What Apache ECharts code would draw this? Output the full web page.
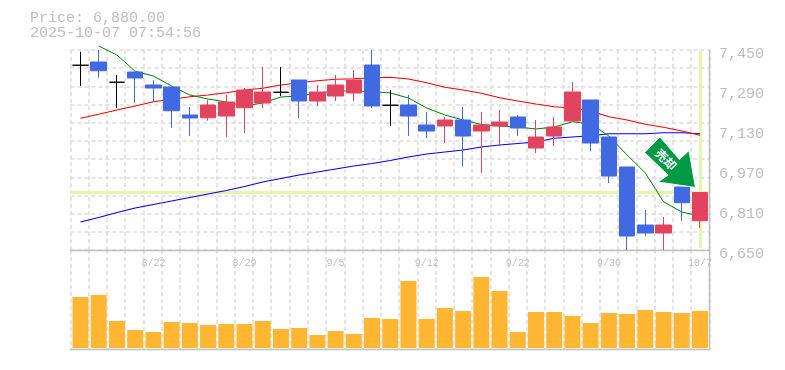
<!DOCTYPE html>
<html><head><meta charset="utf-8">
<style>html,body{margin:0;padding:0;background:#fff}#c{width:785px;height:370px}</style>
<script src="https://cdn.jsdelivr.net/npm/echarts@6/dist/echarts.min.js"></script>
</head><body><div id="c"></div>
<script>
const categories=['8/18','8/19','8/20','8/21','8/22','8/25','8/26','8/27','8/28','8/29','9/1','9/2','9/3','9/4','9/5','9/8','9/9','9/10','9/11','9/12','9/16','9/17','9/18','9/19','9/22','9/24','9/25','9/26','9/29','9/30','10/1','10/2','10/3','10/6','10/7'];
const opens=[7389,7402,7321,7362,7310,7302,7190,7179,7186,7219,7238,7281,7330,7246,7266,7278,7390,7229,7230,7150,7146,7170,7126,7146,7182,7058,7106,7166,7250,7102,6982,6750,6718,6902,6767];
const closes=[7389,7367,7321,7338,7298,7207,7178,7230,7242,7290,7282,7281,7246,7282,7310,7330,7226,7229,7186,7126,7170,7106,7150,7162,7138,7102,7142,7282,7078,6946,6706,6718,6750,6839,6880];
const lows=[7306,7339,7218,7239,7242,7138,7106,7167,7102,7118,7218,7266,7178,7226,7246,7246,7218,7146,7106,7098,7078,6986,6958,7066,7106,7038,7066,7166,7046,6918,6650,6706,6650,6767,6739];
const highs=[7443,7450,7350,7362,7330,7302,7222,7250,7270,7298,7382,7382,7330,7310,7350,7370,7450,7290,7270,7202,7182,7222,7202,7210,7190,7170,7182,7322,7250,7102,6982,6810,6782,6902,6880];
const dojiIndex=[0,2,11,17];
const maShort=[null,7466,7430,7365,7346,7306,7270,7254,7242,7226,7238,7262,7266,7278,7286,7286,7284,7278,7258,7218,7190,7170,7152,7146,7142,7134,7142,7163,7154,7106,7030,6958,6843,6802,6786];
const maMid=[7177,7193,7210,7226,7243,7253,7263,7270,7279,7290,7297,7310,7319,7327,7333,7335,7339,7341,7334,7319,7301,7290,7277,7259,7246,7234,7223,7218,7206,7183,7170,7153,7141,7126,7109];
const maLong=[6762,6780,6800,6818,6832,6846,6860,6874,6888,6904,6922,6936,6950,6962,6974,6986,6996,7008,7022,7034,7042,7050,7062,7070,7076,7082,7097,7102,7107,7115,7115,7115,7119,7119,7115];
const volumes=[51,53,27,18,16,26,25,23,24,24,27,19,20,13,17,14,30,29,67,29,40,37,71,57,16,36,36,32,25,35,34,38,36,35,37];
const priceTicks=[6650,6810,6970,7130,7290,7450];
const lastPrice=6880;
const priceTitle='Price: 6,880.00';
const timeTitle='2025-10-07 07:54:56';
const arrowText='売却';

const GRAY='#bdbdbd',GRID='#dcdcdc',RED='#e2445f',BLUE='#4169e1',MONO='"Liberation Mono","DejaVu Sans Mono",monospace';
const candle=categories.map((c,i)=>{
  const v=[opens[i],closes[i],lows[i],highs[i]];
  return dojiIndex.includes(i)?{value:v,itemStyle:{color:'#000',color0:'#000',borderColor:'#000',borderColor0:'#000',borderColorDoji:'#000'}}:{value:v};
});
const dashed={show:true,lineStyle:{color:GRID,type:[4,3],width:1.5}};
const hiddenAxis={axisLine:{show:false},axisTick:{show:false},axisLabel:{show:false}};
const option={
  animation:false,backgroundColor:'#fff',
  grid:[
    {left:71.4,top:50,width:637.7,height:200},
    {left:71.4,top:250,width:637.7,height:100},
    {left:70.4,top:50,width:639,height:200},
    {left:70.4,top:250,width:639,height:100}
  ],
  xAxis:[
    {type:'category',gridIndex:0,data:categories,boundaryGap:true,axisLine:{show:false},axisTick:{show:false},splitLine:{show:false},
     axisLabel:{color:GRAY,fontFamily:MONO,fontSize:10,margin:8,hideOverlap:false,interval:(i)=>i%5===4}},
    {type:'category',gridIndex:1,data:categories,axisLine:{show:false},axisTick:{show:false},axisLabel:{show:false},splitLine:{show:false}},
    {type:'value',gridIndex:2,min:0,max:35,interval:1,...hiddenAxis,splitLine:dashed,z:0},
    {type:'value',gridIndex:3,min:0,max:35,interval:1,...hiddenAxis,splitLine:dashed,z:0}
  ],
  yAxis:[
    {type:'value',gridIndex:0,position:'right',min:6650,max:7450,splitLine:{show:false},axisTick:{show:false},
     axisLine:{show:false},
     axisLabel:{customValues:priceTicks,color:GRAY,fontFamily:MONO,fontSize:15,margin:10,
       verticalAlign:'top',lineHeight:8,
       formatter:v=>v.toLocaleString('en-US')}},
    {type:'value',gridIndex:1,min:-2,max:98,...hiddenAxis,splitLine:{show:false}},
    {type:'value',gridIndex:2,min:0,max:11,interval:1,...hiddenAxis,splitLine:dashed,z:0},
    {type:'value',gridIndex:3,min:0,max:1,interval:1,...hiddenAxis,splitLine:{show:false}}
  ],
  title:{text:priceTitle+'\n'+timeTitle,left:30,top:11,padding:0,textStyle:{color:GRAY,fontFamily:MONO,fontSize:15,fontWeight:'normal',lineHeight:15}},
  graphic:[
    {type:'line',shape:{x1:70,y1:250.5,x2:710,y2:250.5},style:{stroke:'#c0c0c0',lineWidth:1.5},z:3},
    {type:'line',shape:{x1:70,y1:349.5,x2:710,y2:349.5},style:{stroke:'#c0c0c0',lineWidth:1.5},z:3},
    {type:'line',shape:{x1:709.5,y1:50,x2:709.5,y2:350},style:{stroke:'#c0c0c0',lineWidth:1.5},z:3},
    {type:'polygon',shape:{points:[[660,137],[644.5,152.5],[668,175],[658,182],[695.5,187.5],[689,150.5],[679.5,159.5]]},
     style:{fill:'#009944',stroke:'#ffffff',lineWidth:1},z:20},
    {type:'text',x:666,y:159.5,rotation:-Math.PI/4,originX:0,originY:0,z:21,
     style:{text:arrowText,fill:'#fff',font:'bold 12px "Noto Sans CJK JP"',align:'center',verticalAlign:'middle'}}
  ],
  series:[
    {type:'line',xAxisIndex:0,yAxisIndex:0,data:maLong,symbol:'none',lineStyle:{color:'#0000ff',width:1.2},z:3},
    {type:'line',xAxisIndex:0,yAxisIndex:0,data:maMid,symbol:'none',lineStyle:{color:'#ff0000',width:1.2},z:3},
    {type:'line',xAxisIndex:0,yAxisIndex:0,data:maShort,symbol:'none',clip:false,connectNulls:false,lineStyle:{color:'#008000',width:1},z:3},
    {type:'candlestick',xAxisIndex:0,yAxisIndex:0,data:candle,barWidth:16,z:4,clip:true,
     itemStyle:{color:RED,color0:BLUE,borderColor:RED,borderColor0:BLUE,borderWidth:1},
     markLine:{silent:true,symbol:'none',animation:false,z:2,label:{show:false},
       lineStyle:{color:'#e6f5ac',type:'solid',width:3},
       data:[
         [{coord:[0,lastPrice],x:70},{coord:[34,lastPrice],x:709}],
         [{coord:[34,7450]},{coord:[34,6658]}]
       ]}},
    {type:'bar',xAxisIndex:1,yAxisIndex:1,data:volumes,barWidth:16,itemStyle:{color:'#ffb733'},z:4}
  ]
};
echarts.init(document.getElementById('c'),null,{renderer:'canvas'}).setOption(option);
</script></body></html>
